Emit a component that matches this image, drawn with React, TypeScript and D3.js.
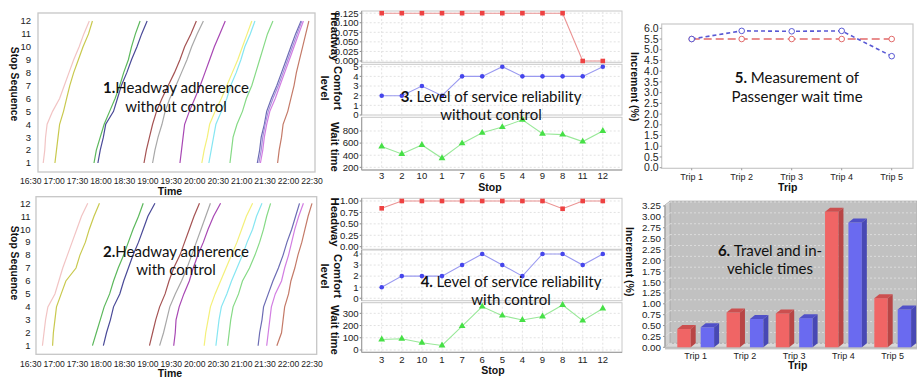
import * as d3 from "d3";

// ---------- data ----------
const stopSeq = [1, 2, 3, 4, 5, 6, 7, 8, 9, 10, 11, 12];
const timeLabels = ["16:30", "17:00", "17:30", "18:00", "18:30", "19:00", "19:30", "20:00", "20:30", "21:00", "21:30", "22:00", "22:30"];

// minutes after 16:30 at which each trip reaches stops 1..12
const tripsWithoutControl = [
  [16, 18, 19, 21, 28, 37, 43, 49, 55, 62, 68, 75],
  [31, 33, 35, 37, 42, 46, 50, 55, 61, 67, 74, 79],
  [81, 84, 89, 94, 101, 108, 114, 119, 125, 129, 134, 140],
  [86, 89, 93, 96, 106, 111, 116, 123, 129, 136, 142, 149],
  [145, 148, 152, 156, 161, 168, 176, 184, 191, 197, 205, 212],
  [156, 159, 163, 168, 172, 178, 186, 193, 200, 206, 213, 221],
  [191, 193, 195, 197, 203, 210, 217, 223, 229, 235, 242, 249],
  [219, 222, 226, 229, 236, 244, 251, 258, 265, 271, 277, 283],
  [228, 231, 234, 237, 244, 251, 256, 263, 269, 274, 281, 287],
  [255, 257, 259, 264, 271, 276, 283, 288, 293, 298, 303, 310],
  [290, 293, 295, 299, 302, 308, 315, 321, 327, 333, 339, 346],
  [292, 295, 297, 300, 304, 310, 317, 323, 329, 335, 341, 347],
  [294, 297, 299, 302, 306, 313, 319, 325, 331, 337, 343, 349],
  [316, 318, 321, 323, 329, 333, 337, 340, 344, 348, 352, 356],
];
const colorsWithoutControl = [
  "#f2c4c4", "#c9c94e", "#5cb85c", "#4a4a98", "#a55353", "#a8a8a8", "#a848b4",
  "#f4f07a", "#86e6f2", "#86da86", "#6c6cb4", "#a690dc", "#d27ee2", "#c47a68",
];

const tripsWithControl = [
  [15, 17, 19, 22, 31, 36, 41, 47, 53, 59, 65, 73],
  [28, 29, 31, 33, 39, 45, 58, 63, 70, 75, 81, 88],
  [79, 84, 89, 94, 101, 106, 112, 119, 125, 131, 138, 144],
  [93, 97, 102, 106, 114, 119, 125, 131, 138, 144, 150, 159],
  [152, 156, 160, 165, 172, 177, 183, 191, 197, 203, 209, 216],
  [165, 170, 174, 178, 185, 193, 200, 206, 212, 218, 224, 230],
  [183, 185, 186, 190, 196, 203, 208, 214, 221, 227, 234, 243],
  [222, 224, 227, 230, 236, 243, 250, 257, 264, 270, 276, 284],
  [237, 239, 241, 244, 251, 257, 264, 271, 277, 284, 289, 296],
  [252, 254, 256, 259, 266, 271, 280, 287, 293, 298, 302, 307],
  [291, 293, 296, 298, 304, 310, 317, 323, 328, 334, 339, 344],
  [302, 304, 306, 308, 313, 321, 325, 330, 334, 338, 343, 349],
  [315, 321, 323, 325, 330, 333, 338, 342, 347, 351, 355, 360],
];
const colorsWithControl = [
  "#f2c4c4", "#c9c94e", "#5cb85c", "#4a4a98", "#a55353", "#a8a8a8", "#a848b4",
  "#f4f07a", "#86e6f2", "#86da86", "#6c6cb4", "#d27ee2", "#c47a68",
];

const stopOrder = ["3", "2", "10", "1", "7", "6", "5", "4", "9", "8", "11", "12"];
const headwayWithout = [0.125, 0.125, 0.125, 0.125, 0.125, 0.125, 0.125, 0.125, 0.125, 0.125, 0, 0];
const comfortWithout = [2, 2, 3, 2, 4, 4, 5, 4, 4, 4, 4, 5];
const waitWithout = [545, 420, 570, 350, 595, 770, 865, 985, 755, 740, 625, 800];
const headwayWith = [0.84, 1, 1, 1, 1, 1, 1, 1, 1, 0.83, 1, 1];
const comfortWith = [1, 2, 2, 2, 3, 4, 3, 2, 4, 4, 3, 4];
const waitWith = [86, 92, 59, 37, 195, 355, 281, 246, 274, 368, 240, 340];

const tripNames = ["Trip 1", "Trip 2", "Trip 3", "Trip 4", "Trip 5"];
const passengerWaitRed = [5.5, 5.5, 5.5, 5.5, 5.5];
const passengerWaitBlue = [5.5, 5.88, 5.86, 5.88, 4.7];
const waitAxisLabels = ["6.0", "5.5", "5.0", "4.5", "4.0", "3.5", "3.0", "2.5", "2.0", "2.0", "1.5", "1.0", "0.5", "0.0"];

const travelRed = [0.42, 0.8, 0.78, 3.12, 1.13];
const travelBlue = [0.46, 0.65, 0.67, 2.87, 0.87];
const travelTicks = [0, 0.25, 0.5, 0.75, 1, 1.25, 1.5, 1.75, 2, 2.25, 2.5, 2.75, 3, 3.25];

// ---------- styles ----------
const TICK_FONT = "'Liberation Sans', Arial, sans-serif";
const CAP_FONT = "Lato, 'Open Sans', sans-serif";

function Caption({ x, y, lead, first, second }: { x: number; y: number; lead: string; first: string; second: string }) {
  return (
    <text x={x} y={y} textAnchor="middle" fontFamily={CAP_FONT} fontSize={15} fill="#111">
      <tspan fontWeight="bold">{lead}</tspan>
      {first}
      <tspan x={x} dy={18.5}>{second}</tspan>
    </text>
  );
}

function VTitle({ x, y, size, lines }: { x: number; y: number; size: number; lines: string[] }) {
  if (lines.length === 1) {
    return (
      <text transform={`translate(${x},${y}) rotate(90)`} dy="0.35em" textAnchor="middle"
        fontFamily={TICK_FONT} fontWeight="bold" fontSize={size} fill="#111">{lines[0]}</text>
    );
  }
  return (
    <text transform={`translate(${x},${y}) rotate(90)`} textAnchor="middle"
      fontFamily={TICK_FONT} fontWeight="bold" fontSize={size} fill="#111">
      <tspan x={0} y={-2.5}>{lines[0]}</tspan>
      <tspan x={0} y={10.5}>{lines[1]}</tspan>
    </text>
  );
}

// ---------- panels 1 & 2 ----------
function AdherencePanel(p: {
  trips: number[][]; colors: string[]; l: number; t: number; r: number; b: number;
  y1: number; y12: number; labelX: number; tickY: number; timeY: number; titleY: number;
  lead: string; second: string; capY: number;
}) {
  const x = d3.scaleLinear().domain([0, 360]).range([30.7, 312]);
  const y = d3.scaleLinear().domain([1, 12]).range([p.y1, p.y12]);
  const path = d3.line<number>().x((d) => x(d)).y((_, i) => y(stopSeq[i]));
  return (
    <g>
      <rect x={p.l} y={p.t} width={p.r - p.l} height={p.b - p.t} fill="#fff" stroke="#c6c6c6" strokeWidth={1.3} />
      {stopSeq.map((s) => (
        <text key={s} x={p.labelX} y={y(s)} dy="0.35em" textAnchor="end" fontFamily={TICK_FONT} fontSize={9.5} fill="#222">{s}</text>
      ))}
      {timeLabels.map((lab, i) => (
        <text key={lab} x={x(i * 30)} y={p.tickY} dy="0.35em" textAnchor="middle" fontFamily={TICK_FONT} fontSize={8.6} fill="#222">{lab}</text>
      ))}
      {p.trips.map((tr, i) => (
        <path key={i} d={path(tr) ?? ""} fill="none" stroke={p.colors[i]} strokeWidth={1.2} />
      ))}
      <text x={170} y={p.timeY} dy="0.35em" textAnchor="middle" fontFamily={TICK_FONT} fontWeight="bold" fontSize={10.5} fill="#111">Time</text>
      <VTitle x={15} y={p.titleY} size={10.3} lines={["Stop Sequence"]} />
      <Caption x={176} y={p.capY} lead={p.lead} first="Headway adherence" second={p.second} />
    </g>
  );
}

// ---------- panels 3 & 4 ----------
type Sub = {
  top: number; bottom: number; domain: [number, number]; ticks: number[]; fmt: (v: number) => string;
  values: number[]; kind: "square" | "circle" | "triangle"; title: string[]; titleY: number;
};
const markerStyle = {
  square: { fill: "#ee4242", line: "#eb9292" },
  circle: { fill: "#4646ec", line: "#9a9af0" },
  triangle: { fill: "#46e046", line: "#98e898" },
};

function ReliabilityPanel(p: { subs: Sub[]; tickY: number; stopY: number; stopX: number; lead: string; second: string; capX: number; capY: number }) {
  const L = 361.7, R = 622;
  const x = d3.scalePoint<string>().domain(stopOrder).range([381.7, 602.8]);
  const tri = d3.symbol().type(d3.symbolTriangle).size(20)() ?? "";
  const last = p.subs[p.subs.length - 1];
  return (
    <g>
      {p.subs.map((s, si) => {
        const y = d3.scaleLinear().domain(s.domain).range([s.bottom, s.top]);
        const line = d3.line<number>().x((_, i) => x(stopOrder[i]) ?? 0).y((d) => y(d));
        const st = markerStyle[s.kind];
        return (
          <g key={si}>
            <rect x={L} y={s.top} width={R - L} height={s.bottom - s.top} fill="#fff" stroke="#c8c8c8" />
            {stopOrder.map((c) => (
              <line key={c} x1={x(c)} x2={x(c)} y1={s.top} y2={s.bottom} stroke="#e2e2e2" strokeDasharray="2,2" />
            ))}
            {s.ticks.map((v) => (
              <g key={v}>
                <line x1={L} x2={R} y1={y(v)} y2={y(v)} stroke="#e2e2e2" strokeDasharray="2,2" />
                <line x1={L - 2} x2={L} y1={y(v)} y2={y(v)} stroke="#888" />
                <text x={L - 3} y={y(v)} dy="0.35em" textAnchor="end" fontFamily={TICK_FONT} fontSize={9.6} fill="#222">{s.fmt(v)}</text>
              </g>
            ))}
            <line x1={L} x2={L} y1={s.top} y2={s.bottom} stroke="#999" />
            <path d={line(s.values) ?? ""} fill="none" stroke={st.line} strokeWidth={1.1} />
            {s.values.map((v, i) => {
              const cx = x(stopOrder[i]) ?? 0, cy = y(v);
              if (s.kind === "square") return <rect key={i} x={cx - 2.3} y={cy - 2.3} width={4.6} height={4.6} fill={st.fill} />;
              if (s.kind === "circle") return <circle key={i} cx={cx} cy={cy} r={2.3} fill={st.fill} />;
              return <path key={i} d={tri} transform={`translate(${cx},${cy})`} fill={st.fill} />;
            })}
            <VTitle x={s.title.length > 1 ? 331.5 : 335} y={s.titleY} size={11.3} lines={s.title} />
          </g>
        );
      })}
      <line x1={L} x2={R} y1={last.bottom} y2={last.bottom} stroke="#999" />
      {stopOrder.map((c) => (
        <text key={c} x={x(c)} y={p.tickY} dy="0.35em" textAnchor="middle" fontFamily={TICK_FONT} fontSize={9.5} fill="#222">{c}</text>
      ))}
      <text x={p.stopX} y={p.stopY} dy="0.35em" textAnchor="middle" fontFamily={TICK_FONT} fontWeight="bold" fontSize={10.5} fill="#111">Stop</text>
      <Caption x={p.capX} y={p.capY} lead={p.lead} first="Level of service reliability" second={p.second} />
    </g>
  );
}

// ---------- panel 5 ----------
function PassengerWaitPanel() {
  const l = 661.7, t = 24, r = 913, b = 168.3;
  const yPos = d3.scalePoint<number>().domain(waitAxisLabels.map((_, i) => i)).range([28.3, 167.7]);
  const y = d3.scaleLinear().domain([4.5, 6]).range([yPos(3) ?? 0, yPos(0) ?? 0]);
  const x = d3.scalePoint<string>().domain(tripNames).range([691.7, 891.7]);
  const line = d3.line<number>().x((_, i) => x(tripNames[i]) ?? 0).y((d) => y(d));
  const series = [
    { vals: passengerWaitRed, color: "#e26a6a", dash: "8,4" },
    { vals: passengerWaitBlue, color: "#5858d4", dash: "4,3" },
  ];
  return (
    <g>
      <rect x={l} y={t} width={r - l} height={b - t} fill="#fff" stroke="#c8c8c8" strokeWidth={1.2} />
      {waitAxisLabels.map((lab, i) => (
        <g key={i}>
          <line x1={l - 2} x2={l} y1={yPos(i)} y2={yPos(i)} stroke="#999" />
          <text x={l - 3} y={yPos(i)} dy="0.35em" textAnchor="end" fontFamily={TICK_FONT} fontSize={10.5} fill="#222">{lab}</text>
        </g>
      ))}
      {tripNames.map((n) => (
        <g key={n}>
          <line x1={x(n)} x2={x(n)} y1={b} y2={b + 2} stroke="#999" />
          <text x={x(n)} y={177.3} dy="0.35em" textAnchor="middle" fontFamily={TICK_FONT} fontSize={9} fill="#222">{n}</text>
        </g>
      ))}
      {series.map((s, si) => (
        <g key={si}>
          <path d={line(s.vals) ?? ""} fill="none" stroke={s.color} strokeWidth={1.6} strokeDasharray={s.dash} />
          {s.vals.map((v, i) => (
            <circle key={i} cx={x(tripNames[i])} cy={y(v)} r={2.8} fill="#fff" stroke={s.color} strokeWidth={1} />
          ))}
        </g>
      ))}
      <text x={787.7} y={187.8} dy="0.35em" textAnchor="middle" fontFamily={TICK_FONT} fontWeight="bold" fontSize={10.5} fill="#111">Trip</text>
      <VTitle x={635} y={86.7} size={10.5} lines={["Increment (%)"]} />
      <Caption x={797} y={83.3} lead="5. " first="Measurement of" second="Passenger wait time" />
    </g>
  );
}

// ---------- panel 6 ----------
function TravelTimesPanel() {
  const dx = 5, dy = -4;
  const axisX = 665, right = 917;
  const y = d3.scaleLinear().domain([0, 3.25]).range([347.3, 206]);
  const x = d3.scalePoint<string>().domain(tripNames).range([695.7, 892.7]);
  const inner = d3.scaleBand<string>().domain(["red", "blue"]).range([-18.4, 18.4]).paddingInner(0.427);
  const w = inner.bandwidth();
  const yTop = y(3.27), y0 = y(0);
  const bars = [
    { key: "red", vals: travelRed, front: "#f06565", top: "#cc4f4f", side: "#b84646" },
    { key: "blue", vals: travelBlue, front: "#6a6af0", top: "#5050c8", side: "#4848b4" },
  ];
  return (
    <g>
      <rect x={axisX + dx} y={yTop + dy} width={right - axisX - dx} height={y0 - yTop} fill="#c1c1c1" stroke="#b0b0b0" />
      <polygon points={`${axisX},${yTop} ${axisX + dx},${yTop + dy} ${axisX + dx},${y0 + dy} ${axisX},${y0}`} fill="#d2d2d2" stroke="#b0b0b0" />
      <polygon points={`${axisX},${y0} ${axisX + dx},${y0 + dy} ${right},${y0 + dy} ${right},${y0}`} fill="#d8d8d8" stroke="#b0b0b0" />
      {travelTicks.map((v) => (
        <g key={v}>
          <line x1={axisX + dx} x2={right} y1={y(v) + dy} y2={y(v) + dy} stroke="#dcdcdc" strokeDasharray="2,2" />
          <line x1={axisX} x2={axisX + dx} y1={y(v)} y2={y(v) + dy} stroke="#dcdcdc" />
          <line x1={axisX - 2} x2={axisX} y1={y(v)} y2={y(v)} stroke="#999" />
          <text x={axisX - 4} y={y(v)} dy="0.35em" textAnchor="end" fontFamily={TICK_FONT} fontSize={9.8} fill="#222">{v.toFixed(2)}</text>
        </g>
      ))}
      <line x1={axisX} x2={axisX} y1={yTop} y2={y0} stroke="#999" />
      <line x1={axisX} x2={right} y1={y0 + 1.5} y2={y0 + 1.5} stroke="#aaa" />
      {tripNames.map((n, i) => (
        <g key={n}>
          {bars.map((s) => {
            const bx = (x(n) ?? 0) + (inner(s.key) ?? 0);
            const by = y(s.vals[i]);
            return (
              <g key={s.key}>
                <rect x={bx} y={by} width={w} height={y0 - by} fill={s.front} />
                <polygon points={`${bx},${by} ${bx + dx},${by + dy} ${bx + w + dx},${by + dy} ${bx + w},${by}`} fill={s.top} />
                <polygon points={`${bx + w},${by} ${bx + w + dx},${by + dy} ${bx + w + dx},${y0 + dy} ${bx + w},${y0}`} fill={s.side} />
              </g>
            );
          })}
          <text x={x(n)} y={355.7} dy="0.35em" textAnchor="middle" fontFamily={TICK_FONT} fontSize={9} fill="#222">{n}</text>
        </g>
      ))}
      <text x={797.7} y={365.5} dy="0.35em" textAnchor="middle" fontFamily={TICK_FONT} fontWeight="bold" fontSize={10.5} fill="#111">Trip</text>
      <VTitle x={630} y={261.7} size={10.5} lines={["Increment (%)"]} />
      <Caption x={770} y={255.7} lead="6. " first="Travel and in-" second="vehicle times" />
    </g>
  );
}

export default function App() {
  const fmt3 = d3.format(".3f");
  const fmt2 = d3.format(".2f");
  const fmt0 = d3.format("d");
  return (
    <svg width={917} height={378} style={{ position: "absolute", left: 0, top: 0, background: "#fff" }}>
      <rect width={917} height={378} fill="#fff" />
      <AdherencePanel trips={tripsWithoutControl} colors={colorsWithoutControl}
        l={38} t={13} r={315} b={172} y1={163} y12={21} labelX={31} tickY={180.5} timeY={191.5} titleY={84}
        lead="1." second="without control" capY={93} />
      <AdherencePanel trips={tripsWithControl} colors={colorsWithControl}
        l={36} t={196.7} r={316.7} b={354.3} y1={345.7} y12={203.3} labelX={30.5} tickY={363.5} timeY={373.8} titleY={263}
        lead="2." second="with control" capY={256.7} />
      <ReliabilityPanel
        subs={[
          { top: 11, bottom: 62.3, domain: [-0.0034, 0.1307], ticks: [0, 0.025, 0.05, 0.075, 0.1, 0.125], fmt: fmt3, values: headwayWithout, kind: "square", title: ["Headway"], titleY: 36.7 },
          { top: 64.3, bottom: 115, domain: [0, 5.25], ticks: [0, 1, 2, 3, 4, 5], fmt: fmt0, values: comfortWithout, kind: "circle", title: ["Comfort", "level"], titleY: 88 },
          { top: 117.3, bottom: 170, domain: [156, 1026], ticks: [200, 400, 600, 800], fmt: fmt0, values: waitWithout, kind: "triangle", title: ["Wait time"], titleY: 147 },
        ]}
        tickY={175.7} stopY={187} stopX={490} lead="3. " second="without control" capX={491} capY={101.7} />
      <ReliabilityPanel
        subs={[
          { top: 198.3, bottom: 249.3, domain: [-0.057, 1.059], ticks: [0, 0.25, 0.5, 0.75, 1], fmt: fmt2, values: headwayWith, kind: "square", title: ["Headway"], titleY: 222 },
          { top: 250, bottom: 300.7, domain: [-0.22, 4.36], ticks: [0, 1, 2, 3, 4], fmt: fmt0, values: comfortWith, kind: "circle", title: ["Comfort", "level"], titleY: 276 },
          { top: 302.7, bottom: 352.3, domain: [-19, 387], ticks: [0, 100, 200, 300], fmt: fmt0, values: waitWith, kind: "triangle", title: ["Wait time"], titleY: 330 },
        ]}
        tickY={360} stopY={370.5} stopX={493} lead="4. " second="with control" capX={511} capY={286.7} />
      <PassengerWaitPanel />
      <TravelTimesPanel />
    </svg>
  );
}
